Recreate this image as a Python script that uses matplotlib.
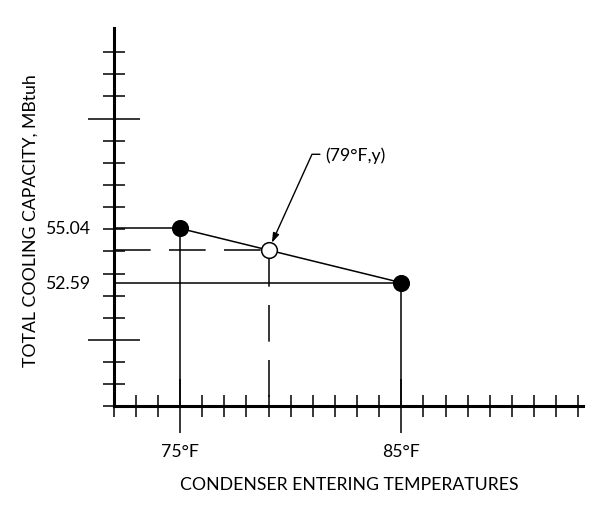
import numpy as np
import matplotlib
matplotlib.use("Agg")
import matplotlib.pyplot as plt

# Data
temps = [75, 85]                      # condenser entering temperature, F
capacity = [55.04, 52.59]             # total cooling capacity, MBtuh
temp_labels = ["75°F", "85°F"]
capacity_labels = ["55.04", "52.59"]
interp_temp = 79
interp_capacity = 54.06
interp_label = "(79°F,y)"

x_origin, y_origin = 72, 47           # where the drawn axes cross

plt.rcParams["font.family"] = ["Lato", "DejaVu Sans"]
FS = 12.7

fig = plt.figure(figsize=(6, 5.06), dpi=100)
ax = fig.add_axes([0, 0, 1, 1])
ax.set_xlim(66.866, 93.979)
ax.set_ylim(42.55, 65.40)

# axes drawn as thick spines crossing at the origin
for side in ["top", "right"]:
    ax.spines[side].set_visible(False)
ax.spines["left"].set_position(("data", x_origin))
ax.spines["bottom"].set_position(("data", y_origin))
ax.spines["left"].set_bounds(y_origin, 64.1)
ax.spines["bottom"].set_bounds(x_origin, 93.2)
for side in ["left", "bottom"]:
    ax.spines[side].set_linewidth(2.2)
ax.patch.set_visible(False)

ax.set_xticks(temps, labels=temp_labels)
ax.set_xticks(np.arange(x_origin, 94), minor=True)
ax.set_yticks([50, 60], labels=["", ""])
ax.set_yticks(np.arange(y_origin, 64), minor=True)
ax.tick_params(axis="x", which="major", direction="inout", length=38.9, width=1.1,
               pad=7, labelsize=FS)
ax.tick_params(axis="both", which="minor", direction="inout", length=15.5, width=1.1)
ax.tick_params(axis="y", which="major", direction="inout", length=37.4, width=1.1)

# guide lines from the axes to the known points
lw = 1.1
ax.hlines(capacity, x_origin, temps, color="black", lw=lw, zorder=2)
ax.vlines(temps, y_origin, capacity, color="black", lw=lw, zorder=2)
ax.plot(temps, capacity, color="black", lw=lw, zorder=2)

# dashed guides to the interpolated point
dash = dict(color="black", lw=lw, dashes=(24, 12), zorder=2)
ax.plot([x_origin, interp_temp], [interp_capacity, interp_capacity], **dash)
ax.plot([interp_temp, interp_temp], [interp_capacity, y_origin], **dash)

ax.plot(temps, capacity, "o", ms=11.3, color="black", zorder=3)
ax.plot([interp_temp], [interp_capacity], "o", ms=11.3, mfc="white", mec="black",
        mew=1.1, zorder=3)

for val, lab in zip(capacity, capacity_labels):
    ax.annotate(lab, xy=(x_origin, val), xytext=(-16.5, 0), textcoords="offset points",
                ha="right", va="center", fontsize=FS)

ax.annotate(interp_label, xy=(interp_temp, interp_capacity), xytext=(41, 69),
            textcoords="offset points", ha="left", va="center", fontsize=FS,
            arrowprops=dict(arrowstyle="-|>,head_length=0.45,head_width=0.15",
                            color="black", lw=1.0, shrinkA=2, shrinkB=5.8,
                            relpos=(0, 0.5),
                            connectionstyle="angle,angleA=0,angleB=65.6,rad=0"))

fig.text(349.5 / 600, 1 - 485 / 506, "CONDENSER ENTERING TEMPERATURES",
         ha="center", va="center", fontsize=FS)
fig.text(31 / 600, 1 - 221 / 506, "TOTAL COOLING CAPACITY, MBtuh",
         ha="center", va="center", rotation=90, fontsize=FS)

fig.savefig("out.png", dpi=100, facecolor="white")
